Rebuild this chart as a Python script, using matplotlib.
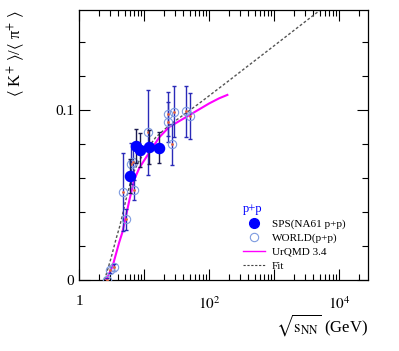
import matplotlib
matplotlib.use("Agg")
import matplotlib.pyplot as plt
import matplotlib.ticker as ticker
from matplotlib.lines import Line2D

plt.rcParams['font.family'] = ['Liberation Serif', 'DejaVu Sans']
plt.rcParams['mathtext.fontset'] = 'stix'

# NA61 p+p (filled)
sps_energy = [6.1, 7.5, 8.7, 12.0, 16.8]
sps_ratio = [0.0614, 0.0788, 0.0765, 0.0784, 0.0780]
sps_err = [0.010, 0.010, 0.010, 0.010, 0.009]

# world p+p data (open)
world_energy = [2.63, 3.0, 3.37, 4.75, 5.2, 6.2, 6.8, 6.85, 11.5, 22.8, 23.4, 26.6, 29.0, 43.9, 50.4]
world_ratio = [0.000, 0.006, 0.0075, 0.052, 0.0357, 0.0686, 0.0696, 0.053, 0.087,
               0.098, 0.093, 0.080, 0.099, 0.0994, 0.0966]
world_err = [0.001, 0.002, 0.002, 0.023, 0.006, 0.012, 0.010, 0.006, 0.025,
             0.013, 0.012, 0.012, 0.015, 0.015, 0.0135]

# UrQMD 3.4 curve
urqmd_energy = [2.6, 3.25, 4.1, 4.6, 5.9, 7.0, 8.4, 11.9, 17.0, 24.0, 49.0, 100.0, 142.0, 190.0]
urqmd_ratio = [0.0, 0.008, 0.022, 0.028, 0.047, 0.059, 0.066, 0.075, 0.084, 0.090, 0.097,
               0.104, 0.107, 0.109]

# fit curve
fit_energy = [2.45, 3.07, 3.7, 4.15, 4.6, 5.2, 6.6, 8.0, 10.0, 15.0, 24.0, 70.0, 190.0, 1000.0, 5100.0]
fit_ratio = [0.0, 0.0127, 0.0245, 0.031, 0.038, 0.047, 0.062, 0.069, 0.075, 0.084, 0.091,
             0.104, 0.1167, 0.138, 0.159]

fig = plt.figure(figsize=(3.99, 3.51), dpi=100)
ax = fig.add_axes([0.1987, 0.2023, 0.7243, 0.7692])

ax.plot(fit_energy, fit_ratio, color='#555555', lw=1.0, ls=(0, (2, 1.5)), zorder=2)
ax.plot(urqmd_energy, urqmd_ratio, color='#ff00ff', lw=1.5, zorder=3)

ax.errorbar(world_energy, world_ratio, yerr=world_err, fmt='none', ecolor='#2a2ab8',
            elinewidth=1.0, capsize=1.2, zorder=4)
ax.plot(world_energy, world_ratio, 'o', ms=6, mfc='none', mec='#7d9be0', mew=0.8, zorder=5)
ax.plot(world_energy, world_ratio, 'o', ms=1, color='#e06040', zorder=5)

ax.errorbar(sps_energy, sps_ratio, yerr=sps_err, fmt='none', ecolor='#1a1a50',
            elinewidth=1.0, capsize=1.2, zorder=6)
ax.plot(sps_energy, sps_ratio, 'o', ms=7.3, color='#0000ff', zorder=7)

ax.set_xscale('log')
ax.set_xlim(1, 2.8e4)
ax.set_ylim(0, 0.159)

ax.xaxis.set_major_locator(ticker.FixedLocator([1, 10, 100, 1000, 10000]))
ax.xaxis.set_major_formatter(ticker.FixedFormatter(['1', '', '$10^2$', '', '$10^4$']))
ax.xaxis.set_minor_locator(ticker.LogLocator(base=10, subs=range(2, 10), numticks=20))
ax.xaxis.set_minor_formatter(ticker.NullFormatter())

ax.yaxis.set_major_locator(ticker.FixedLocator([0, 0.1]))
ax.yaxis.set_major_formatter(ticker.FixedFormatter(['0', '0.1']))
ax.yaxis.set_minor_locator(ticker.MultipleLocator(0.02))

ax.tick_params(which='both', direction='in', top=True, right=True, labelsize=11, width=0.8)
ax.tick_params(which='major', length=8)
ax.tick_params(which='minor', length=4)
ax.tick_params(axis='x', pad=11)
for sp in ax.spines.values():
    sp.set_linewidth(0.9)

ax.set_ylabel(r'$\langle$ K$^{+}$ $\rangle$/$\langle$ π$^{+}$ $\rangle$', fontsize=12, loc='top')
ax.yaxis.set_label_coords(-0.178, 1.0)
ax.set_xlabel(r'$\sqrt{\mathrm{s}_{\mathrm{NN}}}$ (GeV)', fontsize=12, loc='right')
ax.xaxis.set_label_coords(1.0, -0.12)

handles = [
    Line2D([], [], ls='none', marker='o', ms=7, color='#0000ff'),
    Line2D([], [], ls='none', marker='o', ms=6, mfc='none', mec='#7d9be0', mew=0.8),
    Line2D([], [], color='#ff00ff', lw=1.0),
    Line2D([], [], color='#444444', lw=0.8, ls=(0, (2, 1.5))),
]
labels = ['SPS(NA61 p+p)', 'WORLD(p+p)', 'UrQMD 3.4', 'Fit']
leg = ax.legend(handles, labels, title='p+p', fontsize=8, title_fontsize=9,
                frameon=False, loc='upper left', bbox_to_anchor=(0.55, 0.30),
                handlelength=2.0, handletextpad=0.6, labelspacing=0.35,
                borderaxespad=0)
leg.get_title().set_color('#0000ff')
leg._legend_box.align = 'left'

fig.savefig('out.png', dpi=100)
